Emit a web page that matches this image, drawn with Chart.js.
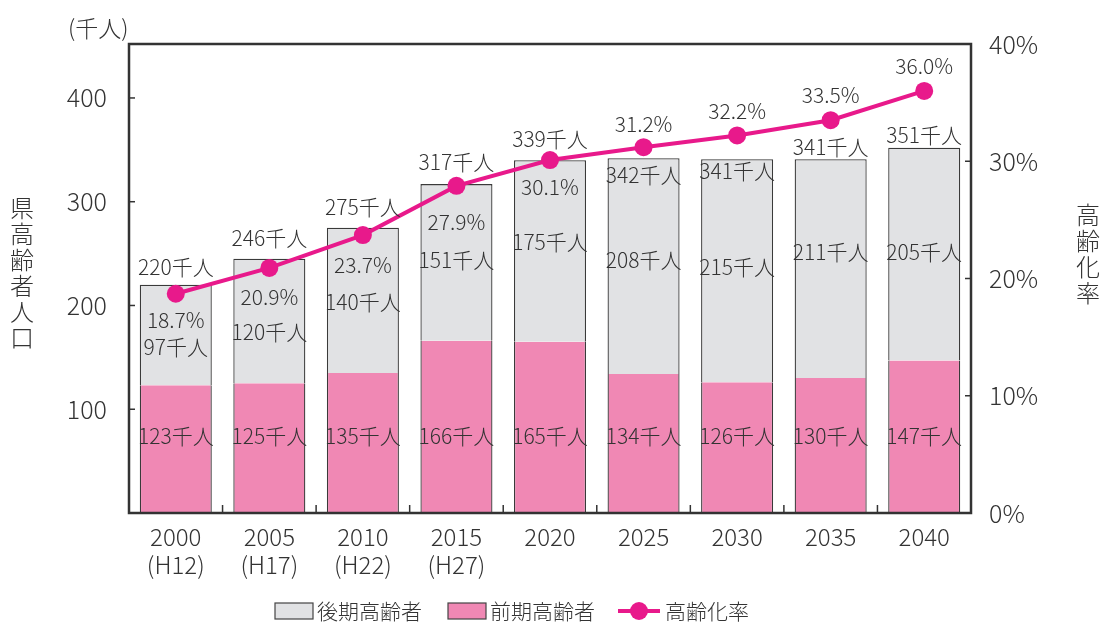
<!DOCTYPE html>
<html>
<head>
<meta charset="utf-8">
<script src="https://cdn.jsdelivr.net/npm/chart.js@4.4.0/dist/chart.umd.min.js"></script>
<style>
  html, body { margin: 0; padding: 0; background: #fff; }
  #wrap { width: 1109px; height: 624px; }
</style>
</head>
<body>
<div id="wrap"><canvas id="myChart" width="1109" height="624"></canvas></div>
<script>
// データ
const nendo = [['2000', '(H12)'], ['2005', '(H17)'], ['2010', '(H22)'], ['2015', '(H27)'], '2020', '2025', '2030', '2035', '2040'];
const zenki = [123, 125, 135, 166, 165, 134, 126, 130, 147];   // 前期高齢者
const kouki = [97, 120, 140, 151, 175, 208, 215, 211, 205];    // 後期高齢者
const goukei = [220, 246, 275, 317, 339, 342, 341, 341, 351];  // 県高齢者人口
const ritsu = [18.7, 20.9, 23.7, 27.9, 30.1, 31.2, 32.2, 33.5, 36.0]; // 高齢化率

// ラベルのずらし (px)
const dyKouki = [12, 11, 2, -2, -9, -6, -4, -17, -2];
const dyTotal = [-18, -21, -21, -22, -21, 17, 12, -12, -13];
const dyRitsu = [26, 29, 30, 36, 27, -23, -24, -25, -25];

const FONT = "'Noto Sans CJK JP', 'Noto Sans', sans-serif";
const TXT = '#333';
const PINK = '#f088b4';
const GRAY = '#e1e2e4';
const MAGENTA = '#e8198b';

const frame = {
  id: 'frame',
  afterDatasetsDraw(chart) {
    const { ctx, chartArea: a, scales } = chart;
    ctx.save();
    ctx.strokeStyle = '#333';
    ctx.lineWidth = 1.5;
    // 目盛り (内向き)
    [100, 200, 300, 400].forEach(v => {
      const y = scales.y.getPixelForValue(v);
      ctx.beginPath(); ctx.moveTo(a.left, y); ctx.lineTo(a.left + 6, y); ctx.stroke();
    });
    [10, 20, 30].forEach(v => {
      const y = scales.y1.getPixelForValue(v);
      ctx.beginPath(); ctx.moveTo(a.right - 6, y); ctx.lineTo(a.right, y); ctx.stroke();
    });
    for (let i = 0; i < nendo.length - 1; i++) {
      const x = (scales.x.getPixelForValue(i) + scales.x.getPixelForValue(i + 1)) / 2;
      ctx.beginPath(); ctx.moveTo(x, a.bottom); ctx.lineTo(x, a.bottom - 8); ctx.stroke();
    }
    ctx.lineWidth = 2.5;
    ctx.strokeRect(a.left, a.top, a.right - a.left, a.bottom - a.top);

    // データラベル
    ctx.fillStyle = TXT;
    ctx.font = '300 21px ' + FONT;
    ctx.textAlign = 'center';
    ctx.textBaseline = 'middle';
    const y = scales.y, y1 = scales.y1;
    for (let i = 0; i < nendo.length; i++) {
      const x = scales.x.getPixelForValue(i);
      const pinkTop = y.getPixelForValue(zenki[i]);
      const top = y.getPixelForValue(zenki[i] + kouki[i]);
      ctx.fillText(zenki[i] + '千人', x, a.bottom - 77);
      ctx.fillText(kouki[i] + '千人', x, (pinkTop + top) / 2 + dyKouki[i]);
      ctx.fillText(goukei[i] + '千人', x, top + dyTotal[i]);
      ctx.fillText(ritsu[i].toFixed(1) + '%', x, y1.getPixelForValue(ritsu[i]) + dyRitsu[i]);
    }
    ctx.restore();
  },
  afterDraw(chart) {
    const { ctx } = chart;
    ctx.save();
    ctx.fillStyle = TXT;
    ctx.textBaseline = 'middle';
    // 単位
    ctx.font = '300 23px ' + FONT;
    ctx.textAlign = 'left';
    ctx.fillText('(千人)', 68, 28);
    // 縦書きタイトル
    ctx.textAlign = 'center';
    ctx.font = '300 24px ' + FONT;
    [...'県高齢者人口'].forEach((c, i) => ctx.fillText(c, 22, 208 + i * 26));
    [...'高齢化率'].forEach((c, i) => ctx.fillText(c, 1088, 215 + i * 26));
    // 凡例
    ctx.textAlign = 'left';
    ctx.font = '300 21px ' + FONT;
    ctx.strokeStyle = '#444';
    ctx.lineWidth = 1.2;
    ctx.fillStyle = GRAY; ctx.fillRect(275, 603, 38, 16); ctx.strokeRect(275, 603, 38, 16);
    ctx.fillStyle = PINK; ctx.fillRect(448, 603, 38, 16); ctx.strokeRect(448, 603, 38, 16);
    ctx.strokeStyle = MAGENTA; ctx.lineWidth = 4;
    ctx.beginPath(); ctx.moveTo(618, 611); ctx.lineTo(660, 611); ctx.stroke();
    ctx.fillStyle = MAGENTA;
    ctx.beginPath(); ctx.arc(639, 611, 9, 0, Math.PI * 2); ctx.fill();
    ctx.fillStyle = TXT;
    ctx.fillText('後期高齢者', 317, 611);
    ctx.fillText('前期高齢者', 490, 611);
    ctx.fillText('高齢化率', 665, 611);
    ctx.restore();
  }
};

const ctx = document.getElementById('myChart');
const data = {
  labels: nendo,
  datasets: [{
    type: 'bar',
    label: '前期高齢者',
    data: zenki,
    backgroundColor: PINK,
    borderColor: '#3a3a3a',
    borderWidth: { top: 0, left: 1.3, right: 1.3, bottom: 0 },
    borderSkipped: false,
    yAxisID: 'y',
    order: 1
  }, {
    type: 'bar',
    label: '後期高齢者',
    data: kouki,
    backgroundColor: GRAY,
    borderColor: '#3a3a3a',
    borderWidth: { top: 1.3, left: 1.3, right: 1.3, bottom: 0 },
    borderSkipped: false,
    yAxisID: 'y',
    order: 1
  }, {
    type: 'line',
    label: '高齢化率',
    data: ritsu,
    borderColor: MAGENTA,
    backgroundColor: MAGENTA,
    borderWidth: 4,
    pointRadius: 9,
    pointBorderWidth: 0,
    pointBackgroundColor: MAGENTA,
    tension: 0,
    yAxisID: 'y1',
    order: 0
  }]
};

const config = {
  data: data,
  options: {
    responsive: false,
    animation: false,
    devicePixelRatio: 1,
    layout: { padding: { top: 44, left: 0, right: 0, bottom: 0 } },
    datasets: { bar: { barPercentage: 0.77, categoryPercentage: 1 } },
    plugins: { legend: { display: false }, tooltip: { enabled: false } },
    scales: {
      x: {
        stacked: true,
        offset: true,
        grid: { display: false },
        border: { display: false },
        ticks: { color: TXT, font: { family: FONT, size: 24, weight: 300 }, padding: 1, maxRotation: 0, autoSkip: false },
        afterFit: s => { s.height = 111; }
      },
      y: {
        stacked: true,
        position: 'left',
        min: 0,
        max: 452,
        grid: { display: false },
        border: { display: false },
        ticks: {
          stepSize: 100,
          color: TXT,
          font: { family: FONT, size: 25, weight: 300 },
          padding: 14,
          callback: v => (v > 0 && v % 100 === 0) ? v : ''
        },
        afterFit: s => { s.width = 129; }
      },
      y1: {
        position: 'right',
        min: 0,
        max: 40,
        grid: { display: false },
        border: { display: false },
        ticks: {
          stepSize: 10,
          color: TXT,
          font: { family: FONT, size: 25, weight: 300 },
          padding: 10,
          callback: v => v + '%'
        },
        afterFit: s => { s.width = 138; }
      }
    }
  },
  plugins: [frame]
};
const chart = new Chart(ctx, config);
</script>
</body>
</html>
